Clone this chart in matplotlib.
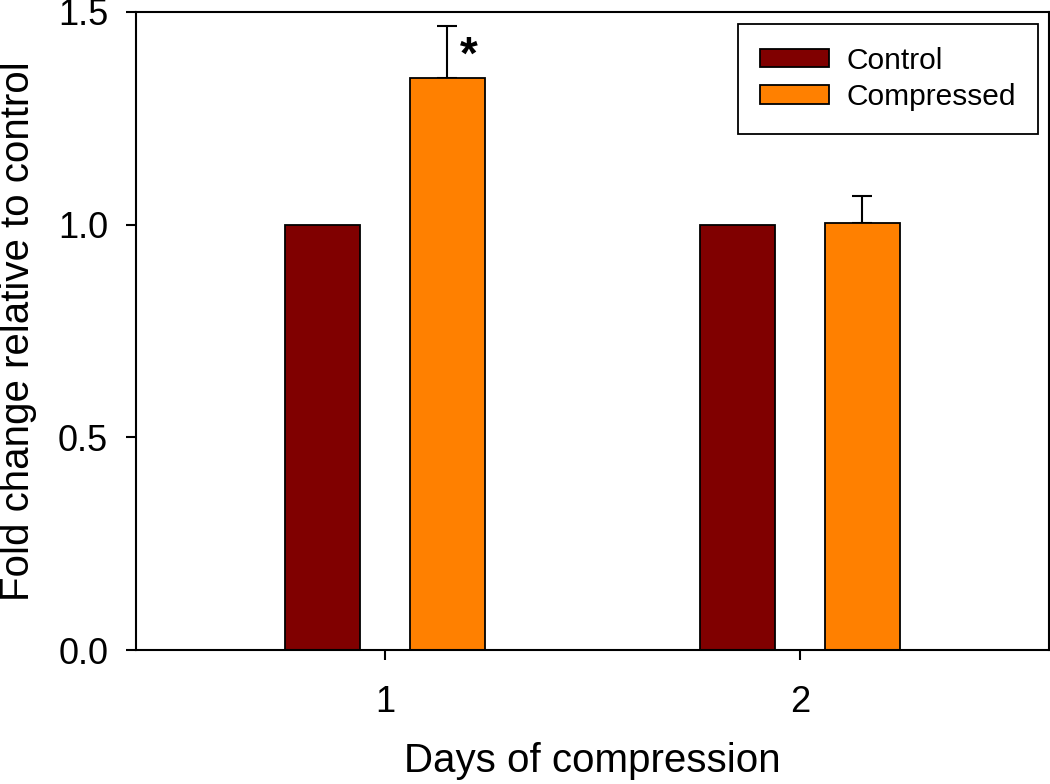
import matplotlib.pyplot as plt
import numpy as np

# donnees
jours = [1, 2]
controle = [1.0, 1.0]
comprime = [1.345, 1.004]
err_comprime = [0.123, 0.063]

plt.rcParams['font.family'] = ['Liberation Sans', 'DejaVu Sans']

fig = plt.figure(figsize=(10.5, 7.84), dpi=100)
ax = fig.add_axes([0.1295, 0.1709, 0.8695, 0.8138])

x = np.array(jours)
largeur = 0.18
ax.bar(x - 0.15, controle, largeur, color='#800000', edgecolor='black',
       linewidth=1.3, label='Control', zorder=2)
ax.bar(x + 0.15, comprime, largeur, color='#FF8000', edgecolor='black',
       linewidth=1.3, label='Compressed', zorder=2)
ax.errorbar(x + 0.15, comprime, yerr=[np.zeros(2), err_comprime], fmt='none',
            ecolor='black', elinewidth=1.5, capsize=7, capthick=1.5, zorder=1)

# etoile de significativite
ax.text(1.203, 1.395, '*', fontsize=33, fontweight='bold', ha='center', va='center')

ax.set_xlim(0.4, 2.6)
ax.set_ylim(0, 1.5)
ax.set_xticks(jours)
ax.set_yticks([0.0, 0.5, 1.0, 1.5])
ax.set_yticklabels(['0.0', '0.5', '1.0', '1.5'])
ax.tick_params(direction='out', length=7, width=1.5, labelsize=26, pad=13)
ax.tick_params(axis='x', pad=18)
for s in ax.spines.values():
    s.set_linewidth(1.5)

ax.set_xlabel('Days of compression', fontsize=29, labelpad=16)
ax.set_ylabel('Fold change relative to control', fontsize=29, labelpad=15)

leg = ax.legend(loc='upper right', bbox_to_anchor=(0.9885, 0.981), fontsize=21.5,
                fancybox=False, edgecolor='black', framealpha=1,
                handlelength=2.3, handleheight=0.6, handletextpad=0.6,
                borderpad=0.75, labelspacing=0.3, borderaxespad=0)
leg.get_frame().set_linewidth(1.3)

fig.savefig('out.png', dpi=100)
